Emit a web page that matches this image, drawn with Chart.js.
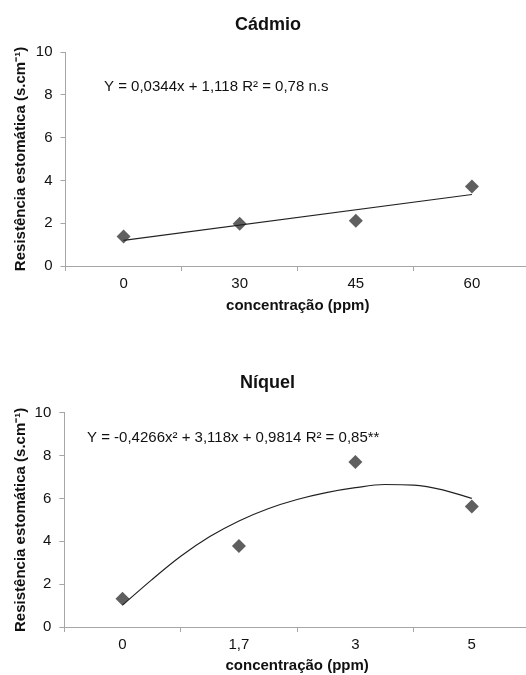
<!DOCTYPE html>
<html>
<head>
<meta charset="utf-8">
<script src="https://cdn.jsdelivr.net/npm/chart.js@4.4.1/dist/chart.umd.min.js"></script>
<style>
html, body { margin: 0; padding: 0; background: #fff; overflow: hidden; width: 526px; height: 675px; }
canvas { position: absolute; left: 0; }
#cadmio { top: 0; }
#niquel { top: 320px; }
</style>
</head>
<body>
<canvas id="cadmio" width="537" height="320"></canvas>
<canvas id="niquel" width="537" height="355"></canvas>
<script>
// Cádmio
const cdLabels = ['0', '30', '45', '60'];
const cdValues = [1.38, 1.98, 2.12, 3.72];
const cdFitX = [0, 3];
const cdFitY = [1.2, 3.34];

// Níquel
const niLabels = ['0', '1,7', '3', '5'];
const niValues = [1.32, 3.78, 7.70, 5.62];
const niFitX = [0, 0.25, 0.5, 0.75, 1, 1.25, 1.5, 1.75, 2, 2.25, 2.5, 2.75, 3];
const niFitY = [1.02, 2.2, 3.3, 4.22, 4.95, 5.52, 5.95, 6.27, 6.5, 6.65, 6.62, 6.4, 6.0];

const yMin = 0;
const yMax = 10;
const yStep = 2;

const markerColor = '#5f5f5f';
const lineColor = '#222';
const axisColor = '#a6a6a6';
const textColor = '#111';

Chart.defaults.font.family = "'Liberation Sans', Arial, sans-serif";

const equationPlugin = {
    id: 'equation',
    afterDatasetsDraw(chart, args, opts) {
        const ctx = chart.ctx;
        ctx.save();
        ctx.font = "15px 'Liberation Sans', Arial, sans-serif";
        ctx.fillStyle = textColor;
        ctx.textBaseline = 'middle';
        ctx.textAlign = 'left';
        ctx.fillText(opts.text, opts.x, opts.y);
        ctx.restore();
    }
};

function BuildScatterChart(canvasId, title, labels, values, fitX, fitY, equation, layout) {

    const fitPoints = fitX.map((x, i) => ({ x: x, y: fitY[i] }));

    const data = {
        labels: labels,
        datasets: [{
            type: 'line',
            data: values,
            showLine: false,
            pointStyle: 'rectRot',
            pointRadius: 7,
            pointBackgroundColor: markerColor,
            pointBorderWidth: 0,
            order: 1
        }, {
            type: 'line',
            data: fitPoints,
            xAxisID: 'xFit',
            borderColor: lineColor,
            borderWidth: 1.2,
            pointRadius: 0,
            cubicInterpolationMode: 'monotone',
            fill: false,
            order: 0
        }]
    };

    const config = {
        data: data,
        plugins: [equationPlugin],
        options: {
            responsive: false,
            animation: false,
            devicePixelRatio: 1,
            layout: { padding: { left: 0, right: layout.padRight, top: 0, bottom: 0 } },
            plugins: {
                legend: { display: false },
                tooltip: { enabled: false },
                title: {
                    display: true,
                    text: title,
                    color: textColor,
                    font: { size: 18, weight: 'bold' },
                    padding: { top: layout.titleTop, bottom: layout.titleBottom }
                },
                equation: { text: equation, x: layout.eqX, y: layout.eqY }
            },
            scales: {
                x: {
                    type: 'category',
                    offset: true,
                    ticks: { color: textColor, font: { size: 15 }, padding: 4 },
                    grid: { drawOnChartArea: false, drawTicks: true, tickLength: 5, color: axisColor, offset: true },
                    border: { color: axisColor },
                    title: {
                        display: true,
                        text: 'concentração (ppm)',
                        color: textColor,
                        font: { size: 15, weight: 'bold' },
                        padding: { top: 0, bottom: layout.xTitleBottom }
                    },
                    afterFit(s) { s.height = layout.xHeight; }
                },
                xFit: {
                    type: 'linear',
                    display: false,
                    min: -0.5,
                    max: labels.length - 0.5
                },
                y: {
                    min: yMin,
                    max: yMax,
                    ticks: { stepSize: yStep, color: textColor, font: { size: 15 }, padding: 8 },
                    grid: { drawOnChartArea: false, drawTicks: true, tickLength: 5, color: axisColor },
                    border: { color: axisColor },
                    title: {
                        display: true,
                        text: 'Resistência estomática (s.cm⁻¹)',
                        color: textColor,
                        font: { size: 15, weight: 'bold' },
                        padding: { top: 12, bottom: 0 }
                    },
                    afterFit(s) { s.width = layout.yWidth; }
                }
            }
        }
    };

    return new Chart(
        document.getElementById(canvasId),
        config
    );
}

BuildScatterChart('cadmio', 'Cádmio', cdLabels, cdValues, cdFitX, cdFitY,
    'Y = 0,0344x + 1,118 R² = 0,78 n.s',
    { padRight: 1, titleTop: 14, titleBottom: 16.4, xHeight: 54, xTitleBottom: 5, yWidth: 65.5, eqX: 104, eqY: 87 });

BuildScatterChart('niquel', 'Níquel', niLabels, niValues, niFitX, niFitY,
    'Y = -0,4266x² + 3,118x + 0,9814 R² = 0,85**',
    { padRight: 2.2, titleTop: 52.2, titleBottom: 18.9, xHeight: 48, xTitleBottom: 0, yWidth: 64.3, eqX: 87, eqY: 117.7 });
</script>
</body>
</html>
